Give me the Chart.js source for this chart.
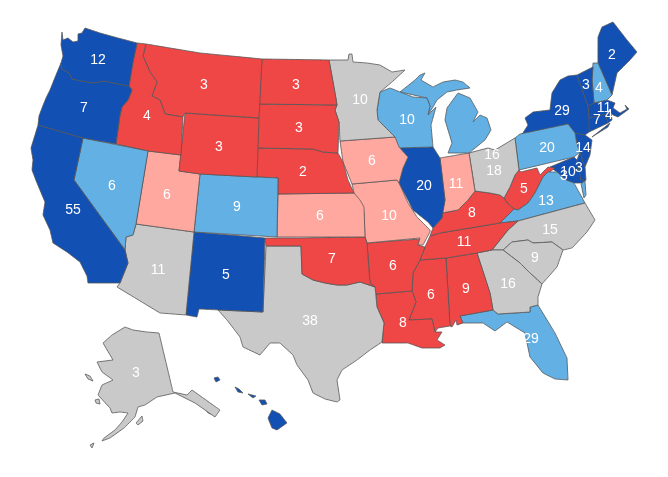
<!DOCTYPE html>
<html>
<head>
<meta charset="utf-8">
<title>Electoral map</title>
<script src="https://cdn.jsdelivr.net/npm/chart.js@4"></script>
<style>
  html, body { margin: 0; padding: 0; background: #fff; }
  canvas { display: block; }
</style>
</head>
<body>
<canvas id="mapa" width="668" height="477"></canvas>
<script>
// ===== data =====
const stateNames = ["WA","OR","CA","NV","ID","MT","WY","UT","CO","AZ","NM","ND","SD","NE","KS","OK","TX","MN","IA","MO","AR","LA","WI","IL","MI","IN","OH","KY","TN","MS","AL","GA","SC","NC","VA","WV","FL","PA","NY","VT","NH","ME","MA","CT","RI","NJ","DE","MD","DC","AK"];
const stateVotes = [12,7,55,6,4,3,3,6,9,11,5,3,3,2,6,7,38,10,6,10,6,8,10,20,16,11,18,8,11,6,9,16,9,15,13,5,29,20,29,3,4,2,11,7,4,14,3,10,3,3];
const stateRatings = ["dem","dem","dem","leanDem","rep","rep","rep","leanRep","leanDem","tossup","dem","rep","rep","rep","leanRep","rep","tossup","tossup","leanRep","leanRep","rep","rep","leanDem","dem","leanDem","leanRep","tossup","rep","rep","rep","rep","tossup","tossup","tossup","leanDem","rep","leanDem","leanDem","dem","dem","leanDem","dem","dem","dem","dem","dem","dem","dem","dem","tossup"];
const hawaiiRating = "dem";
const labelAnchors = [[98,60],[84,108],[73,210],[112,186],[147,116],[204,85],[219,147],[167,195],[237,207],[158,270],[226,275],[296,85],[299,128],[303,172],[320,216],[332,259],[310,321],[360,100],[372,161],[389,216],[393,266],[403,323],[407,120],[424,186],[492,155],[456,184],[494,171],[472,213],[464,242],[431,295],[466,289],[508,284],[535,258],[550,230],[546,201],[524,189],[531,339],[547,148],[562,111],[586,85],[599,88],[612,55],[604,108],[597,120],[609,115],[583,148],[579,168],[568,172],[564,176],[136,373]];

// state outlines, in map units
const outlines = {
  WA: [[[62,32],[63,40],[68,38],[73,42],[78,41],[78,34],[82,33],[85,28],[100,33],[118,38],[137,43],[133,62],[129,86],[118,84],[105,81],[92,83],[72,79],[69,73],[62,69],[61,63],[63,56],[61,45]]],
  OR: [[[61,63],[62,69],[69,73],[72,79],[92,83],[105,81],[118,84],[129,86],[132,90],[128,100],[122,107],[120,115],[116,144],[83,138],[38,125],[39,116],[42,108],[46,98],[50,90],[56,75]]],
  CA: [[[38,125],[83,138],[74,180],[125,250],[128,263],[120,283],[88,283],[87,276],[80,262],[67,252],[53,243],[50,230],[43,215],[45,202],[37,183],[32,170],[33,160],[31,148],[35,135]]],
  NV: [[[83,138],[148,151],[136,224],[133,235],[126,237],[125,250],[74,180]]],
  ID: [[[137,43],[146,44],[143,56],[150,72],[157,82],[152,96],[160,100],[165,114],[183,117],[181,155],[148,151],[116,144],[120,115],[122,107],[128,100],[132,90],[129,86],[133,62]]],
  MT: [[[146,44],[200,53],[262,59],[259,118],[185,113],[183,117],[165,114],[160,100],[152,96],[157,82],[150,72],[143,56]]],
  WY: [[[185,113],[259,118],[257,177],[200,174],[179,171]]],
  UT: [[[148,151],[181,155],[179,171],[200,174],[194,232],[136,224]]],
  CO: [[[200,174],[257,177],[278,178],[277,237],[194,232]]],
  AZ: [[[136,224],[194,232],[186,315],[160,313],[117,287],[120,283],[128,263],[125,250],[126,237],[133,235]]],
  NM: [[[194,232],[265,238],[263,312],[220,310],[199,309],[197,317],[186,315]]],
  ND: [[[262,59],[329,60],[335,93],[337,105],[259,104]]],
  SD: [[[259,104],[337,105],[335,110],[339,122],[338,153],[323,152],[313,149],[257,148]]],
  NE: [[[257,148],[313,149],[323,152],[338,153],[343,162],[348,180],[354,193],[278,194],[278,178],[256,177]]],
  KS: [[[278,194],[354,193],[360,200],[364,207],[365,237],[277,237]]],
  OK: [[[265,238],[300,238],[365,237],[367,243],[370,283],[375,287],[360,282],[347,285],[337,285],[325,283],[313,280],[302,274],[301,246],[266,246]]],
  TX: [[[266,246],[301,246],[302,274],[313,280],[325,283],[337,285],[347,285],[360,282],[375,287],[377,307],[384,323],[382,342],[370,350],[357,360],[342,370],[337,380],[340,400],[337,402],[325,399],[313,393],[308,380],[297,365],[293,355],[280,343],[270,343],[260,355],[243,347],[240,337],[227,320],[218,310],[263,312]]],
  MN: [[[329,60],[348,60],[349,54],[352,54],[353,62],[367,63],[380,65],[392,72],[405,70],[392,82],[380,92],[377,110],[378,120],[395,137],[340,141],[339,122],[335,110],[337,105],[335,93]]],
  IA: [[[340,141],[395,137],[399,147],[408,157],[403,168],[399,183],[397,180],[352,184],[343,162]]],
  MO: [[[352,184],[397,180],[399,183],[408,203],[417,217],[430,230],[430,232],[423,245],[418,245],[420,238],[367,243],[365,237],[364,213],[360,203],[354,193]]],
  AR: [[[367,243],[420,239],[418,245],[425,247],[420,260],[413,273],[412,291],[376,294],[375,287],[370,283]]],
  LA: [[[376,294],[412,291],[416,302],[409,320],[432,319],[435,332],[442,332],[437,340],[445,345],[440,348],[422,348],[408,343],[382,343],[384,323],[377,307]]],
  WI: [[[380,92],[390,88],[400,92],[413,97],[427,98],[430,106],[428,115],[436,107],[431,125],[433,147],[397,148],[395,137],[378,120],[377,110]]],
  IL: [[[397,148],[433,147],[440,158],[445,200],[442,218],[433,228],[428,222],[413,210],[408,200],[399,183],[403,168],[408,157]]],
  MI: [
    [[400,92],[415,80],[420,75],[425,73],[421,80],[433,87],[443,82],[455,80],[463,82],[470,88],[457,90],[447,92],[437,100],[433,107],[428,115],[430,106],[427,98]],
    [[458,93],[447,108],[445,120],[452,143],[448,153],[469,153],[485,140],[491,130],[487,118],[480,115],[473,122],[478,112],[470,98]]
  ],
  IN: [[[440,158],[469,153],[475,191],[468,200],[458,210],[442,213],[445,200]]],
  OH: [[[469,153],[488,148],[495,150],[515,138],[519,170],[515,175],[510,187],[504,198],[500,195],[490,193],[475,191]]],
  KY: [[[430,236],[433,228],[442,218],[442,213],[458,210],[468,200],[475,191],[490,193],[500,195],[504,198],[507,203],[514,209],[500,223],[440,233]]],
  TN: [[[425,247],[430,236],[440,233],[500,223],[518,221],[508,230],[492,250],[477,253],[446,258],[420,260]]],
  MS: [[[420,260],[446,258],[450,326],[438,328],[435,332],[432,319],[409,320],[416,302],[412,291],[413,273]]],
  AL: [[[446,258],[477,253],[490,293],[493,310],[460,316],[463,323],[457,325],[456,320],[452,327],[450,326]]],
  GA: [[[477,253],[492,250],[503,250],[520,263],[530,273],[542,284],[538,297],[538,305],[530,307],[530,312],[498,314],[493,310],[490,293]]],
  SC: [[[503,250],[512,242],[528,240],[533,243],[552,242],[563,250],[557,267],[542,284],[530,273],[520,263]]],
  NC: [[[492,250],[508,230],[518,221],[585,203],[595,220],[587,232],[572,248],[563,250],[552,242],[533,243],[528,240],[512,242],[503,250]]],
  VA: [
    [[500,223],[514,209],[518,210],[528,203],[535,193],[543,177],[548,172],[557,172],[566,180],[574,183],[579,192],[585,203],[518,221]],
    [[581,184],[585,181],[586,195],[584,198]]
  ],
  WV: [[[519,170],[521,172],[537,168],[540,175],[548,167],[555,168],[543,177],[535,193],[528,203],[518,210],[514,209],[507,203],[504,198],[510,187],[515,175]]],
  FL: [[[460,316],[493,310],[498,314],[530,312],[530,307],[538,305],[555,333],[567,358],[568,380],[555,379],[543,373],[530,357],[527,343],[525,333],[507,322],[495,331],[483,323],[463,323]]],
  PA: [[[515,138],[520,134],[568,124],[575,133],[577,145],[580,152],[574,157],[519,170]]],
  NY: [
    [[521,136],[528,125],[525,118],[533,112],[550,110],[552,93],[560,80],[568,76],[577,75],[585,98],[588,106],[589,118],[589,132],[585,135],[575,133],[568,124]],
    [[592,137],[610,123],[608,127],[595,135]]
  ],
  VT: [[[577,75],[593,67],[592,80],[594,103],[588,106],[585,98]]],
  NH: [[[593,63],[598,63],[612,95],[607,100],[594,103],[592,80]]],
  ME: [[[598,63],[598,37],[602,27],[613,22],[627,40],[637,52],[630,60],[617,73],[612,95]]],
  MA: [[[588,106],[594,103],[607,100],[615,103],[613,108],[620,113],[627,109],[625,105],[629,109],[618,117],[613,115],[611,113],[589,118]]],
  CT: [[[589,118],[605,114],[608,123],[589,132]]],
  RI: [[[605,114],[611,113],[612,120],[608,123]]],
  NJ: [[[575,133],[585,135],[592,140],[590,155],[585,167],[580,152],[577,145]]],
  DE: [[[580,152],[585,167],[586,180],[581,180],[577,160]]],
  MD: [[[550,167],[574,157],[577,160],[581,180],[586,180],[582,183],[574,183],[566,180],[557,172]]],
  DC: [[[562,175],[566,174],[566,178],[563,178]]],
  AK: [
    [[125,327],[133,330],[147,332],[159,333],[173,392],[187,395],[192,390],[213,405],[220,410],[215,417],[195,403],[175,393],[157,397],[145,405],[138,407],[135,417],[124,428],[110,438],[102,441],[104,438],[115,430],[122,422],[128,413],[120,412],[112,413],[110,408],[98,395],[102,385],[113,380],[102,372],[97,362],[113,360],[103,343],[112,335]],
    [[85,374],[90,376],[93,381],[88,379]],
    [[95,400],[99,399],[100,404],[96,403]],
    [[136,423],[142,416],[143,421],[138,425]],
    [[90,445],[94,443],[92,448]],
    [[198,399],[208,402],[212,410],[205,408]],
    [[203,405],[212,408],[214,415],[208,413]]
  ],
  HI: [
    [[214,378],[218,377],[220,380],[216,382]],
    [[235,387],[239,389],[243,393],[238,392]],
    [[248,394],[256,396],[253,398]],
    [[259,400],[265,400],[267,404],[262,405]],
    [[272,410],[280,414],[287,423],[277,430],[272,428],[268,418]]
  ]
};

const ratingColors = {
  dem: "#1250B4",
  leanDem: "#62B0E4",
  rep: "#EF4646",
  leanRep: "#FFA8A0",
  tossup: "#C9C9C9"
};

// ===== datasets =====
const datasets = [];
Object.keys(outlines).forEach(code => {
  const i = stateNames.indexOf(code);
  const rating = i >= 0 ? stateRatings[i] : hawaiiRating;
  outlines[code].forEach(ring => {
    datasets.push({
      label: code,
      data: ring.concat([ring[0]]).map(p => ({ x: p[0], y: p[1] })),
      showLine: true,
      fill: "shape",
      // a tiny tension keeps Chart.js off its fast path, which merges points in one pixel column
      tension: 0.001,
      pointRadius: 0,
      borderWidth: 0.8,
      borderColor: "#555555",
      backgroundColor: ratingColors[rating]
    });
  });
});

const labelIndex = datasets.length;
datasets.push({
  label: "votes",
  data: labelAnchors.map(p => ({ x: p[0], y: p[1] })),
  showLine: false,
  pointRadius: 0
});

// vote numbers, written after every state so nothing covers them
const voteLabels = {
  id: "voteLabels",
  afterDatasetsDraw(chart) {
    const { ctx } = chart;
    ctx.save();
    ctx.font = "14px 'Liberation Sans', Arial, sans-serif";
    ctx.fillStyle = "#FFFFFF";
    ctx.textAlign = "center";
    ctx.textBaseline = "middle";
    chart.getDatasetMeta(labelIndex).data.forEach((pt, i) => {
      ctx.fillText(String(stateVotes[i]), pt.x, pt.y);
    });
    ctx.restore();
  }
};

new Chart(document.getElementById("mapa").getContext("2d"), {
  type: "scatter",
  data: { datasets },
  options: {
    responsive: false,
    animation: false,
    events: [],
    layout: { padding: 0 },
    plugins: { legend: { display: false }, tooltip: { enabled: false } },
    scales: {
      x: { type: "linear", min: 0, max: 668, display: false },
      y: { type: "linear", min: 0, max: 477, reverse: true, display: false }
    }
  },
  plugins: [voteLabels]
});
</script>
</body>
</html>
